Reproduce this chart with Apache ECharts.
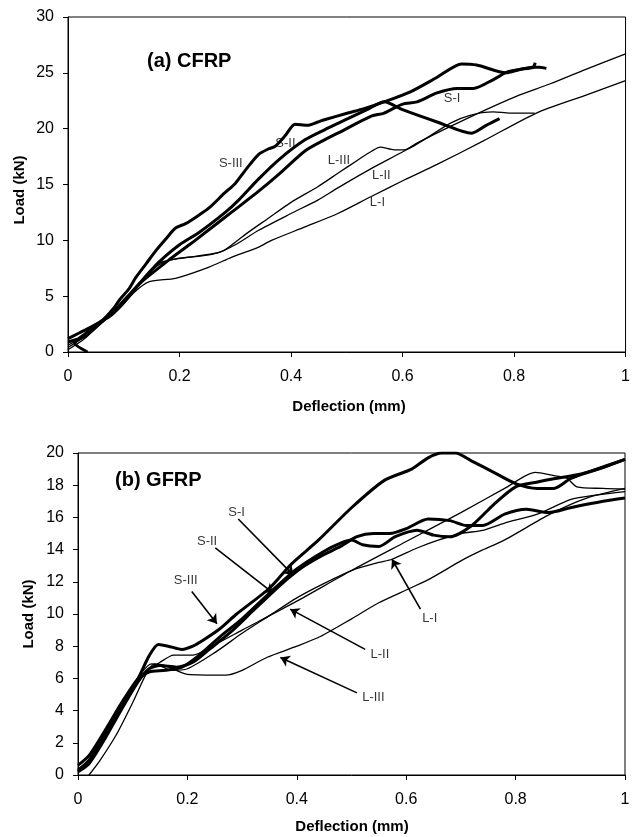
<!DOCTYPE html>
<html><head><meta charset="utf-8">
<script src="https://cdn.jsdelivr.net/npm/echarts@6/dist/echarts.min.js"></script>
<style>html,body{margin:0;padding:0;background:#fff}#c{width:633px;height:837px}</style>
</head><body><div id="c"></div>
<script>
// ---------- Panel (a) CFRP : [deflection mm, load kN] ----------
const aS1 = [[0.035,0],[0.012,0.8],[0.03,1.6],[0.063,2.8],[0.08,3.4],[0.1,4.4],[0.128,6.1],[0.18,8.2],[0.223,9.8],[0.28,12.0],[0.306,13.0],[0.342,14.4],[0.38,16.0],[0.425,18.0],[0.46,19.0],[0.484,19.6],[0.543,21.1],[0.567,21.4],[0.6,22.2],[0.626,22.4],[0.662,23.2],[0.698,23.6],[0.727,23.6],[0.763,24.4],[0.789,25.1],[0.81,25.3],[0.834,25.5],[0.845,25.5],[0.858,25.4]];
const aS2 = [[0,0.9],[0.03,1.4],[0.063,2.8],[0.08,3.5],[0.1,4.6],[0.122,5.8],[0.145,7.1],[0.164,8.1],[0.2,9.6],[0.235,10.7],[0.282,12.5],[0.306,13.6],[0.342,15.5],[0.38,17.3],[0.425,19.0],[0.46,19.9],[0.502,20.9],[0.54,21.8],[0.567,22.4],[0.6,21.7],[0.662,20.6],[0.724,19.6],[0.75,20.3],[0.774,20.9]];
const aS3 = [[0,1.2],[0.02,1.7],[0.04,2.2],[0.063,2.9],[0.08,3.8],[0.093,4.7],[0.11,5.7],[0.122,6.7],[0.14,7.9],[0.158,9.1],[0.175,10.1],[0.193,11.1],[0.211,11.5],[0.23,12.1],[0.253,12.9],[0.28,14.2],[0.3,15.1],[0.32,16.4],[0.342,17.7],[0.36,18.2],[0.371,18.4],[0.39,19.4],[0.407,20.4],[0.43,20.3],[0.448,20.6],[0.46,20.8],[0.502,21.4],[0.531,21.8],[0.567,22.4],[0.614,23.3],[0.662,24.6],[0.706,25.8],[0.733,25.7],[0.786,25.0],[0.81,25.3],[0.834,25.5],[0.838,25.9]];
const aL1 = [[0,0.2],[0.03,1.2],[0.063,2.8],[0.09,3.8],[0.12,5.4],[0.146,6.3],[0.193,6.6],[0.253,7.6],[0.294,8.5],[0.342,9.4],[0.365,10.0],[0.425,11.2],[0.484,12.4],[0.543,13.9],[0.603,15.4],[0.662,16.8],[0.745,18.9],[0.84,21.4],[0.923,22.9],[1.0,24.3]];
const aL2 = [[0,0.4],[0.03,1.4],[0.063,2.9],[0.09,3.9],[0.12,5.5],[0.15,7.3],[0.17,8.0],[0.2,8.4],[0.24,8.6],[0.27,8.9],[0.3,9.6],[0.342,10.9],[0.4,12.4],[0.448,13.6],[0.484,14.7],[0.543,16.4],[0.603,18.0],[0.626,18.7],[0.686,20.2],[0.745,21.6],[0.804,22.9],[0.864,24.0],[0.923,25.2],[1.0,26.7]];
const aL3 = [[0,0.6],[0.03,1.5],[0.063,2.9],[0.09,3.9],[0.12,5.6],[0.15,7.4],[0.165,8.0],[0.19,8.3],[0.22,8.5],[0.26,8.8],[0.28,9.1],[0.32,10.6],[0.36,12.0],[0.4,13.4],[0.448,14.8],[0.484,16.0],[0.52,17.2],[0.545,18.0],[0.56,18.35],[0.585,18.1],[0.603,18.1],[0.638,19.0],[0.686,20.5],[0.721,21.2],[0.763,21.5],[0.792,21.4],[0.837,21.4]];
const aLabels = [[0.292,16.9,'S-III'],[0.39,18.7,'S-II'],[0.689,22.7,'S-I'],[0.486,17.2,'L-III'],[0.562,15.8,'L-II'],[0.555,13.4,'L-I']];

// ---------- Panel (b) GFRP ----------
const bS1 = [[0,0.6],[0.02,1.2],[0.05,2.8],[0.08,4.5],[0.11,6.0],[0.13,6.4],[0.16,6.5],[0.19,6.7],[0.22,7.4],[0.26,8.6],[0.3,9.7],[0.35,11.3],[0.4,12.8],[0.45,13.9],[0.48,14.4],[0.5,14.6],[0.52,14.3],[0.55,14.2],[0.58,14.8],[0.62,15.2],[0.65,14.9],[0.68,14.8],[0.72,15.5],[0.76,16.8],[0.8,17.9],[0.84,18.2],[0.87,18.4],[0.92,18.7],[0.96,19.1],[1.0,19.6]];
const bS2 = [[0,0.2],[0.02,0.7],[0.05,2.3],[0.08,4.1],[0.11,5.8],[0.13,6.6],[0.15,6.8],[0.18,6.7],[0.21,7.0],[0.24,7.8],[0.28,8.9],[0.32,10.2],[0.37,11.8],[0.41,12.9],[0.45,13.7],[0.48,14.2],[0.51,14.8],[0.54,15.0],[0.57,15.0],[0.6,15.3],[0.64,15.9],[0.68,15.8],[0.71,15.5],[0.74,15.5],[0.78,16.2],[0.82,16.5],[0.86,16.3],[0.9,16.6],[0.96,17.0],[1.0,17.2]];
const bS3 = [[0,0.3],[0.02,0.9],[0.05,2.6],[0.08,4.3],[0.11,6.0],[0.13,7.4],[0.147,8.1],[0.165,8.0],[0.19,7.8],[0.21,8.0],[0.23,8.4],[0.26,9.1],[0.29,10.0],[0.35,11.6],[0.39,13.1],[0.44,14.6],[0.5,16.6],[0.56,18.3],[0.61,19.0],[0.64,19.7],[0.665,20.0],[0.69,20.0],[0.72,19.5],[0.76,18.8],[0.8,18.1],[0.84,17.8],[0.87,17.8],[0.9,18.4],[0.94,18.9],[1.0,19.6]];
const bL1 = [[0,0.2],[0.03,1.2],[0.06,2.9],[0.09,4.9],[0.115,6.3],[0.135,6.9],[0.15,6.8],[0.17,6.5],[0.2,6.6],[0.25,7.6],[0.3,8.8],[0.35,9.9],[0.4,11.0],[0.45,11.9],[0.5,12.7],[0.55,13.2],[0.574,13.4],[0.62,14.1],[0.66,14.6],[0.7,15.0],[0.74,15.2],[0.78,15.65],[0.84,16.2],[0.9,17.1],[0.95,17.4],[1.0,17.6]];
const bL2 = [[0,0.3],[0.03,1.3],[0.06,3.1],[0.09,4.9],[0.12,6.3],[0.15,7.0],[0.175,7.45],[0.21,7.45],[0.25,8.1],[0.3,9.0],[0.4,10.8],[0.5,12.7],[0.6,14.5],[0.7,16.3],[0.78,17.8],[0.836,18.8],[0.87,18.6],[0.893,18.45],[0.912,17.9],[0.96,17.8],[1.0,17.75]];
const bL3 = [[0.02,0],[0.04,0.9],[0.07,2.5],[0.1,4.5],[0.125,6.3],[0.14,6.9],[0.16,6.8],[0.2,6.25],[0.27,6.2],[0.3,6.5],[0.345,7.3],[0.4,8.0],[0.443,8.6],[0.5,9.7],[0.55,10.7],[0.607,11.6],[0.644,12.2],[0.7,13.3],[0.735,13.9],[0.78,14.6],[0.863,16.2],[0.93,17.2],[1.0,17.8]];
const bLabels = [[0.29,16.3,'S-I'],[0.236,14.5,'S-II'],[0.197,12.1,'S-III'],[0.643,9.75,'L-I'],[0.552,7.46,'L-II'],[0.54,4.8,'L-III']];
const bArrows = [[[0.293,15.9],[0.394,12.4]],[[0.251,14.1],[0.357,11.3]],[[0.208,11.4],[0.254,9.4]],[[0.626,10.3],[0.574,13.4]],[[0.525,7.8],[0.388,10.3]],[[0.51,5.1],[0.37,7.3]]];

const xTicks = [0,0.2,0.4,0.6,0.8,1];
const aYMax = 30, aYStep = 5, bYMax = 20, bYStep = 2;

const font = '"Liberation Sans", Arial, sans-serif';
function xAx(gi){return {type:'value',gridIndex:gi,min:0,max:1,interval:0.2,
  axisLine:{lineStyle:{color:'#000',width:1}},axisTick:{inside:false,length:5,lineStyle:{color:'#000'}},
  splitLine:{show:false},axisLabel:{color:'#000',fontSize:16,fontFamily:font,margin:17,
  formatter:v=>String(Math.round(v*10)/10)}};}
function yAx(gi,max,step){return {type:'value',gridIndex:gi,min:0,max:max,interval:step,
  axisLine:{show:true,lineStyle:{color:'#000',width:1}},axisTick:{show:true,length:5,lineStyle:{color:'#000'}},
  splitLine:{show:false},axisLabel:{color:'#000',fontSize:16,fontFamily:font,margin:14}};}
function curve(data,gi,thick){return {type:'line',xAxisIndex:gi,yAxisIndex:gi,data:data,showSymbol:false,symbol:'none',
  smooth:0.25,lineStyle:{color:'#000',width:thick?3:1.3},silent:true,z:thick?3:2};}
function labels(data,gi){return {type:'scatter',xAxisIndex:gi,yAxisIndex:gi,symbolSize:0,data:data,silent:true,
  label:{show:true,position:'inside',formatter:p=>p.value[2],color:'#000',fontSize:13,fontFamily:font},z:5};}

const chart = echarts.init(document.getElementById('c'),null,{renderer:'canvas'});
chart.setOption({
  animation:false,backgroundColor:'#fff',
  grid:[{left:68,top:17,width:562,height:335,show:true,borderColor:'#000',borderWidth:1},
        {left:78,top:453,width:547,height:322,show:true,borderColor:'#000',borderWidth:1}],
  xAxis:[xAx(0),xAx(1)],
  yAxis:[yAx(0,aYMax,aYStep),yAx(1,bYMax,bYStep)],
  series:[
    curve(aS1,0,true),curve(aS2,0,true),curve(aS3,0,true),curve(aL1,0,false),curve(aL2,0,false),curve(aL3,0,false),
    curve(bS1,1,true),curve(bS2,1,true),curve(bS3,1,true),curve(bL1,1,false),curve(bL2,1,false),curve(bL3,1,false),
    labels(aLabels,0),labels(bLabels,1),
    {type:'lines',coordinateSystem:'cartesian2d',xAxisIndex:1,yAxisIndex:1,silent:true,
     symbol:['none','arrow'],symbolSize:9,lineStyle:{color:'#000',width:1.6,opacity:1},
     data:bArrows.map(c=>({coords:c})),z:4}
  ],
  graphic:[
    {type:'text',left:147,top:51,style:{text:'(a) CFRP',font:'bold 20px '+font,fill:'#000'}},
    {type:'text',left:115,top:470,style:{text:'(b) GFRP',font:'bold 20px '+font,fill:'#000'}},
    {type:'text',x:349,y:407,style:{text:'Deflection (mm)',font:'bold 15px '+font,fill:'#000',align:'center',verticalAlign:'middle'}},
    {type:'text',x:352,y:827,style:{text:'Deflection (mm)',font:'bold 15px '+font,fill:'#000',align:'center',verticalAlign:'middle'}},
    {type:'text',x:20,y:190,rotation:Math.PI/2,style:{text:'Load (kN)',font:'bold 15px '+font,fill:'#000',align:'center',verticalAlign:'middle'}},
    {type:'text',x:29,y:614,rotation:Math.PI/2,style:{text:'Load (kN)',font:'bold 15px '+font,fill:'#000',align:'center',verticalAlign:'middle'}}
  ]
});
</script></body></html>
